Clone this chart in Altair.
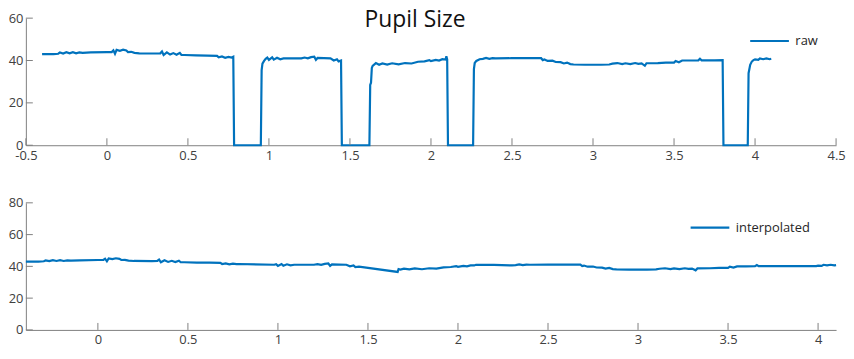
import altair as alt
import pandas as pd

title_text = "Pupil Size"
raw_label = "raw"
interp_label = "interpolated"

top_x_ticks = [-0.5, 0, 0.5, 1, 1.5, 2, 2.5, 3, 3.5, 4, 4.5]
top_y_ticks = [0, 20, 40, 60]
bot_x_ticks = [0, 0.5, 1, 1.5, 2, 2.5, 3, 3.5, 4]
bot_y_ticks = [0, 20, 40, 60, 80]

raw_points = [
    (-0.40, 43.0), (-0.33, 43.0), (-0.30, 43.2), (-0.29, 43.8), (-0.27, 43.3), (-0.25, 43.9),
    (-0.23, 43.4), (-0.21, 43.9), (-0.19, 43.4), (-0.17, 43.8), (-0.15, 43.6), (-0.10, 43.8),
    (0.00, 44.0), (0.03, 44.0), (0.04, 44.8), (0.05, 43.2), (0.06, 45.0), (0.08, 44.6),
    (0.10, 45.1), (0.12, 44.7), (0.13, 44.0), (0.15, 44.1), (0.17, 43.6), (0.20, 43.4),
    (0.30, 43.3), (0.33, 43.4), (0.34, 44.3), (0.35, 42.6), (0.37, 43.8), (0.39, 42.8),
    (0.41, 43.5), (0.43, 42.7), (0.45, 43.6), (0.46, 42.6), (0.48, 42.6), (0.55, 42.4),
    (0.62, 42.3), (0.68, 42.2), (0.69, 41.5), (0.71, 41.9), (0.73, 41.3), (0.75, 41.7),
    (0.77, 41.4), (0.78, 41.8), (0.785, 0.0), (0.95, 0.0), (0.955, 35.5), (0.96, 38.5),
    (0.97, 39.8), (0.98, 40.8), (0.99, 41.4), (1.00, 40.3), (1.02, 41.5), (1.03, 40.4),
    (1.05, 41.3), (1.07, 40.6), (1.09, 41.0), (1.15, 41.0), (1.20, 41.0), (1.22, 41.4),
    (1.24, 41.0), (1.26, 41.6), (1.28, 41.8), (1.29, 40.3), (1.30, 41.2), (1.34, 41.1),
    (1.38, 41.0), (1.40, 40.0), (1.42, 40.6), (1.43, 39.6), (1.445, 40.0), (1.45, 0.0),
    (1.62, 0.0), (1.625, 28.5), (1.63, 29.5), (1.635, 36.5), (1.64, 37.5), (1.66, 38.8),
    (1.68, 38.0), (1.70, 38.6), (1.73, 38.1), (1.76, 38.7), (1.80, 38.2), (1.84, 38.8),
    (1.88, 38.6), (1.92, 39.4), (1.96, 39.6), (1.99, 40.2), (2.00, 39.7), (2.03, 40.3),
    (2.05, 40.0), (2.07, 40.6), (2.09, 40.4), (2.095, 42.0), (2.10, 40.5), (2.105, 0.0),
    (2.26, 0.0), (2.265, 36.0), (2.27, 38.8), (2.28, 39.8), (2.30, 40.6), (2.32, 40.8),
    (2.34, 41.2), (2.36, 40.8), (2.38, 41.1), (2.40, 41.0), (2.50, 41.1), (2.60, 41.1),
    (2.68, 41.1), (2.69, 40.2), (2.70, 40.5), (2.72, 39.8), (2.75, 39.9), (2.77, 39.3),
    (2.80, 39.2), (2.82, 38.6), (2.84, 39.0), (2.86, 38.3), (2.88, 38.1), (2.95, 38.0),
    (3.05, 38.0), (3.10, 38.1), (3.12, 38.5), (3.15, 38.8), (3.18, 38.3), (3.20, 38.7),
    (3.23, 38.3), (3.26, 38.8), (3.28, 38.4), (3.30, 38.6), (3.32, 37.5), (3.33, 38.7),
    (3.40, 38.8), (3.45, 39.0), (3.50, 39.0), (3.51, 39.8), (3.53, 39.2), (3.55, 40.0),
    (3.60, 40.0), (3.65, 40.1), (3.66, 40.8), (3.67, 40.1), (3.75, 40.1), (3.80, 40.2),
    (3.805, 0.0), (3.955, 0.0), (3.96, 34.0), (3.97, 38.0), (3.98, 39.5), (3.99, 40.2),
    (4.00, 40.5), (4.02, 40.3), (4.03, 41.0), (4.05, 40.6), (4.07, 41.0), (4.09, 40.6),
    (4.10, 40.8),
]

interp_points = [
    (-0.40, 43.0), (-0.33, 43.0), (-0.30, 43.2), (-0.29, 43.8), (-0.27, 43.3), (-0.25, 43.9),
    (-0.23, 43.4), (-0.21, 43.9), (-0.19, 43.4), (-0.17, 43.8), (-0.15, 43.6), (-0.10, 43.8),
    (0.00, 44.0), (0.03, 44.0), (0.04, 44.8), (0.05, 43.2), (0.06, 45.0), (0.08, 44.6),
    (0.10, 45.1), (0.12, 44.7), (0.13, 44.0), (0.15, 44.1), (0.17, 43.6), (0.20, 43.4),
    (0.30, 43.3), (0.33, 43.4), (0.34, 44.3), (0.35, 42.6), (0.37, 43.8), (0.39, 42.8),
    (0.41, 43.5), (0.43, 42.7), (0.45, 43.6), (0.46, 42.6), (0.48, 42.6), (0.55, 42.4),
    (0.62, 42.3), (0.68, 42.2), (0.69, 41.5), (0.71, 41.9), (0.73, 41.3), (0.75, 41.7),
    (0.77, 41.4), (0.78, 41.5), (0.98, 41.0), (0.99, 41.4), (1.00, 40.3), (1.02, 41.5),
    (1.03, 40.4), (1.05, 41.3), (1.07, 40.6), (1.09, 41.0), (1.15, 41.0), (1.20, 41.0),
    (1.22, 41.4), (1.24, 41.0), (1.26, 41.6), (1.28, 41.8), (1.29, 40.3), (1.30, 41.2),
    (1.34, 41.1), (1.38, 41.0), (1.40, 40.0), (1.42, 40.6), (1.43, 39.6), (1.45, 39.8),
    (1.665, 36.5), (1.67, 38.3), (1.68, 38.0), (1.70, 38.6), (1.73, 38.1), (1.76, 38.7),
    (1.80, 38.2), (1.84, 38.8), (1.88, 38.6), (1.92, 39.4), (1.96, 39.6), (1.99, 40.2),
    (2.00, 39.7), (2.03, 40.3), (2.05, 40.0), (2.07, 40.6), (2.09, 40.6), (2.10, 41.0),
    (2.20, 40.9), (2.29, 40.6), (2.30, 40.6), (2.32, 40.8), (2.34, 41.2), (2.36, 40.8),
    (2.38, 41.1), (2.40, 41.0), (2.50, 41.1), (2.60, 41.1), (2.68, 41.1), (2.69, 40.2),
    (2.70, 40.5), (2.72, 39.8), (2.75, 39.9), (2.77, 39.3), (2.80, 39.2), (2.82, 38.6),
    (2.84, 39.0), (2.86, 38.3), (2.88, 38.1), (2.95, 38.0), (3.05, 38.0), (3.10, 38.1),
    (3.12, 38.5), (3.15, 38.8), (3.18, 38.3), (3.20, 38.7), (3.23, 38.3), (3.26, 38.8),
    (3.28, 38.4), (3.30, 38.6), (3.32, 37.5), (3.33, 38.7), (3.40, 38.8), (3.45, 39.0),
    (3.50, 39.0), (3.51, 39.8), (3.53, 39.2), (3.55, 40.0), (3.60, 40.0), (3.65, 40.1),
    (3.66, 40.8), (3.67, 40.1), (3.75, 40.1), (3.80, 40.2), (3.97, 40.2), (3.99, 40.2),
    (4.00, 40.5), (4.02, 40.3), (4.03, 41.0), (4.05, 40.6), (4.07, 41.0), (4.09, 40.6),
    (4.10, 40.8),
]

LINE = "#0072BD"
AXIS = "#808080"
TEXT = "#404040"
FONT = "Open Sans"
W, H = 816, 128

df_raw = pd.DataFrame(raw_points, columns=["t", "v"])
df_raw["series"] = raw_label
df_int = pd.DataFrame(interp_points, columns=["t", "v"])
df_int["series"] = interp_label


def x_axis(vals):
    return alt.Axis(values=vals, grid=False, ticks=False, domainColor=AXIS, labelColor=TEXT,
                    labelFont=FONT, labelFontSize=13, labelPadding=4, title=None,
                    labelFlush=False, labelOverlap=False, labelBound=False,
                    labelExpr="'' + datum.value")


def y_axis(vals):
    return alt.Axis(values=vals, grid=False, ticks=False, domainColor=AXIS, labelColor=TEXT,
                    labelFont=FONT, labelFontSize=13, labelPadding=3, title=None,
                    labelFlush=False, labelOverlap=False, labelBound=False,
                    labelExpr="'' + datum.value")


def panel(df, xdom, ydom, xt, yt, lx, ly):
    xs = alt.Scale(domain=xdom, nice=False, zero=False)
    ys = alt.Scale(domain=ydom, nice=False, zero=False)
    line = alt.Chart(df).mark_line(strokeWidth=2.2, strokeJoin="miter").encode(
        x=alt.X("t:Q", scale=xs, axis=x_axis(xt)),
        y=alt.Y("v:Q", scale=ys, axis=y_axis(yt)),
        color=alt.Color("series:N", scale=alt.Scale(range=[LINE]),
                        legend=alt.Legend(orient="none", legendX=lx, legendY=ly, title=None,
                                          symbolType="stroke", symbolSize=1521,
                                          symbolStrokeWidth=2.2, labelFont=FONT,
                                          labelFontSize=13, labelColor="#262626",
                                          labelOffset=5, padding=0)),
    )
    xticks = alt.Chart(pd.DataFrame({"t": xt})).mark_rule(color=AXIS).encode(
        x=alt.X("t:Q", scale=xs, axis=x_axis(xt)), y=alt.value(H), y2=alt.value(H - 7))
    yticks = alt.Chart(pd.DataFrame({"v": yt})).mark_rule(color=AXIS).encode(
        y=alt.Y("v:Q", scale=ys, axis=y_axis(yt)), x=alt.value(0), x2=alt.value(7))
    return line, xticks, yticks


l1, xt1, yt1 = panel(df_raw, [-0.5, 4.5], [0, 60], top_x_ticks, top_y_ticks, 728, 2)
title = alt.Chart(pd.DataFrame({"label": [title_text]})).mark_text(
    font=FONT, fontSize=23, color="#111111", baseline="alphabetic", align="center"
).encode(text="label:N", x=alt.value(392), y=alt.value(9))
top = alt.layer(l1, xt1, yt1, title).properties(width=W, height=H)

l2, xt2, yt2 = panel(df_int, [-0.4, 4.1], [0, 80], bot_x_ticks, bot_y_ticks, 668, 4)
bottom = alt.layer(l2, xt2, yt2).properties(width=W, height=H)

chart = alt.vconcat(top, bottom, spacing=58, bounds="flush").resolve_scale(
    color="independent"
).properties(padding=0).configure_view(stroke=None).configure_axis(
    labelOverlap=False, labelSeparation=0
)

chart.save("out.html", embed_options={"renderer": "svg", "actions": False})
